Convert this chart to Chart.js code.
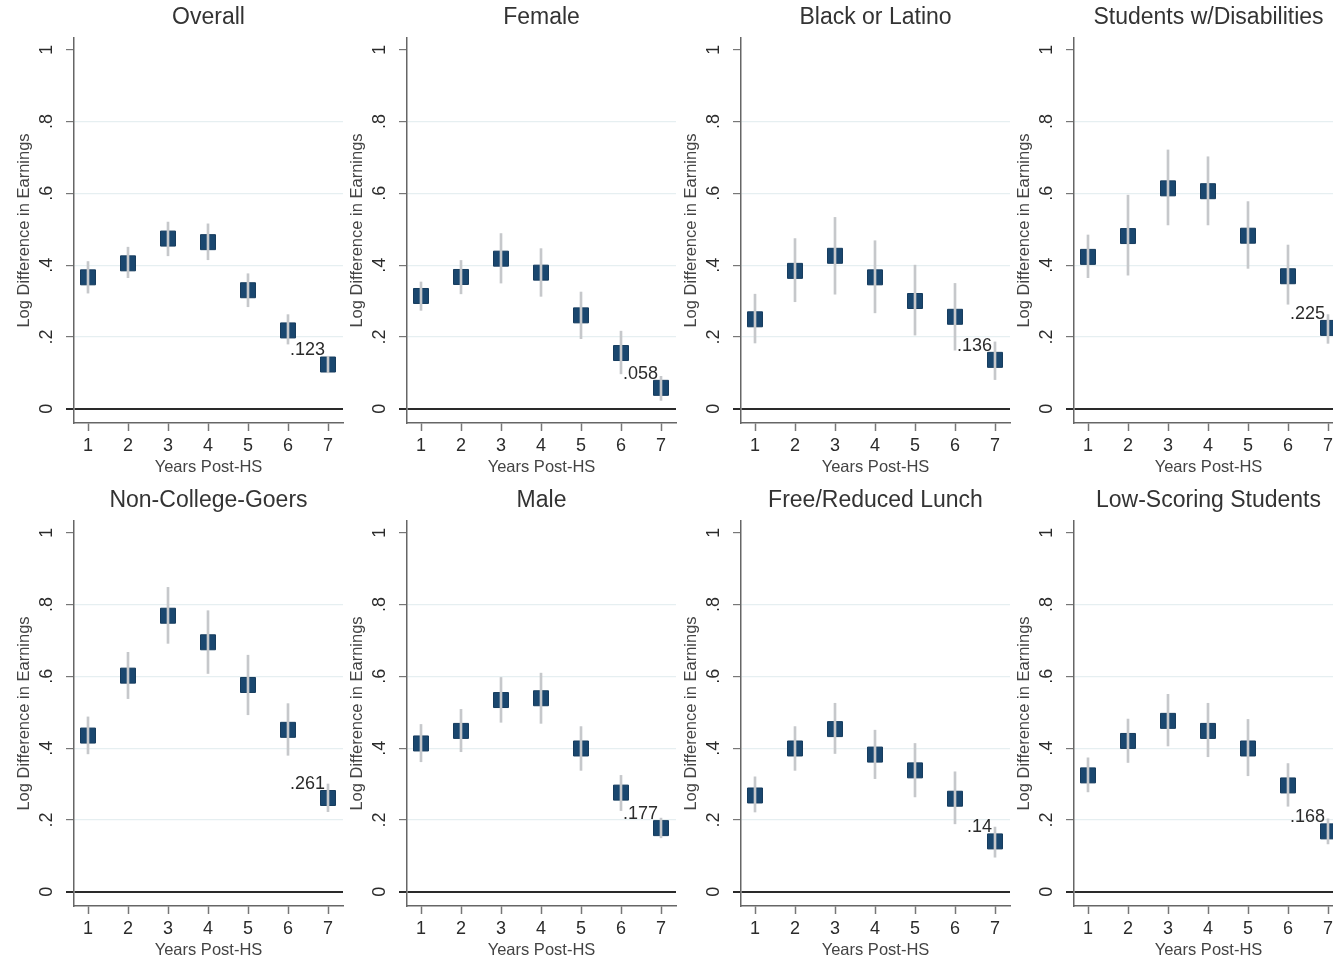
<!DOCTYPE html>
<html>
<head>
<meta charset="utf-8">
<script src="https://cdn.jsdelivr.net/npm/chart.js@4.4.1/dist/chart.umd.min.js"></script>
<style>
  html, body { margin: 0; padding: 0; background: #fff; overflow: hidden; }
  #wrap { position: relative; width: 1333px; height: 962px; overflow: hidden; background: #fff; }
  .panel { position: absolute; width: 350px; height: 479px; }
</style>
</head>
<body>
<div id="wrap"></div>
<script>
// x categories and y ticks
const years = [1, 2, 3, 4, 5, 6, 7];
const yTicks = [0, 0.2, 0.4, 0.6, 0.8, 1];

// point estimates and confidence bounds
const overallEst = [0.366, 0.405, 0.474, 0.464, 0.330, 0.218, 0.123];
const overallLo  = [0.322, 0.365, 0.426, 0.415, 0.284, 0.180, 0.100];
const overallHi  = [0.410, 0.450, 0.520, 0.515, 0.376, 0.262, 0.146];

const femaleEst = [0.314, 0.367, 0.418, 0.379, 0.260, 0.155, 0.058];
const femaleLo  = [0.274, 0.320, 0.350, 0.313, 0.195, 0.097, 0.023];
const femaleHi  = [0.353, 0.413, 0.488, 0.446, 0.325, 0.216, 0.090];

const blackLatinoEst = [0.249, 0.384, 0.426, 0.366, 0.300, 0.256, 0.136];
const blackLatinoLo  = [0.183, 0.298, 0.319, 0.267, 0.205, 0.163, 0.081];
const blackLatinoHi  = [0.319, 0.474, 0.533, 0.468, 0.400, 0.349, 0.186];

const disabEst = [0.423, 0.481, 0.614, 0.606, 0.482, 0.369, 0.225];
const disabLo  = [0.365, 0.372, 0.512, 0.512, 0.391, 0.291, 0.182];
const disabHi  = [0.484, 0.595, 0.721, 0.702, 0.577, 0.456, 0.262];

const nonCollegeEst = [0.435, 0.602, 0.769, 0.695, 0.576, 0.451, 0.261];
const nonCollegeLo  = [0.384, 0.538, 0.692, 0.608, 0.493, 0.380, 0.223];
const nonCollegeHi  = [0.487, 0.667, 0.848, 0.783, 0.659, 0.524, 0.300];

const maleEst = [0.413, 0.448, 0.534, 0.539, 0.399, 0.276, 0.177];
const maleLo  = [0.362, 0.390, 0.472, 0.469, 0.338, 0.226, 0.150];
const maleHi  = [0.466, 0.508, 0.597, 0.609, 0.460, 0.324, 0.205];

const frlEst = [0.268, 0.399, 0.453, 0.382, 0.338, 0.259, 0.140];
const frlLo  = [0.222, 0.338, 0.385, 0.315, 0.264, 0.189, 0.096];
const frlHi  = [0.320, 0.460, 0.525, 0.450, 0.413, 0.334, 0.180];

const lowScoreEst = [0.324, 0.420, 0.476, 0.448, 0.399, 0.296, 0.168];
const lowScoreLo  = [0.278, 0.360, 0.406, 0.376, 0.323, 0.238, 0.133];
const lowScoreHi  = [0.373, 0.481, 0.550, 0.525, 0.480, 0.357, 0.203];

const panels = [
  ['Overall', overallEst, overallLo, overallHi],
  ['Female', femaleEst, femaleLo, femaleHi],
  ['Black or Latino', blackLatinoEst, blackLatinoLo, blackLatinoHi],
  ['Students w/Disabilities', disabEst, disabLo, disabHi],
  ['Non-College-Goers', nonCollegeEst, nonCollegeLo, nonCollegeHi],
  ['Male', maleEst, maleLo, maleHi],
  ['Free/Reduced Lunch', frlEst, frlLo, frlHi],
  ['Low-Scoring Students', lowScoreEst, lowScoreLo, lowScoreHi]
];

Chart.defaults.font.family = '"Liberation Sans", Arial, sans-serif';

const fmt = v => (v === 0 ? '0' : v === 1 ? '1' : String(v).replace(/^0/, ''));

// label of the last estimate, placed up-left of the marker
const lastLabel = {
  id: 'lastLabel',
  afterDatasetsDraw(chart) {
    const meta = chart.getDatasetMeta(1);
    const vals = chart.data.datasets[1].data;
    const i = vals.length - 1;
    const el = meta.data[i];
    const ctx = chart.ctx;
    ctx.save();
    ctx.font = '18px "Liberation Sans", Arial, sans-serif';
    ctx.fillStyle = '#2b2b2b';
    ctx.textAlign = 'right';
    ctx.textBaseline = 'middle';
    ctx.fillText(fmt(vals[i].y), el.x - 3, el.y - 14);
    ctx.restore();
  }
};

const lefts = [0, 333, 667, 1000];
const tops = [0, 483];
const wrap = document.getElementById('wrap');

panels.forEach((p, k) => {
  const [title, est, lo, hi] = p;
  const div = document.createElement('div');
  div.className = 'panel';
  div.style.left = lefts[k % 4] + 'px';
  div.style.top = tops[Math.floor(k / 4)] + 'px';
  const cv = document.createElement('canvas');
  cv.width = 350; cv.height = 479;
  div.appendChild(cv);
  wrap.appendChild(div);

  new Chart(cv, {
    type: 'scatter',
    data: {
      datasets: [
        {
          type: 'bar',
          data: years.map((x, i) => ({ x: x, y: [lo[i], hi[i]] })),
          backgroundColor: '#c6c8cb',
          barThickness: 2,
          order: 0
        },
        {
          type: 'scatter',
          data: years.map((x, i) => ({ x: x, y: est[i] })),
          pointStyle: 'rect',
          pointRadius: 10.6,
          backgroundColor: '#1a476f',
          borderColor: '#163c5e',
          borderWidth: 1,
          order: 1
        }
      ]
    },
    options: {
      responsive: false,
      animation: false,
      layout: { autoPadding: false, padding: { left: 0, right: 7, top: 0, bottom: 0 } },
      plugins: {
        legend: { display: false },
        tooltip: { enabled: false },
        title: {
          display: true,
          text: title,
          fullSize: false,
          color: '#333',
          font: { size: 23, weight: 'normal' },
          padding: { top: 4, bottom: 6.4 }
        }
      },
      scales: {
        x: {
          type: 'linear',
          min: 0.65,
          max: 7.375,
          offset: false,
          afterBuildTicks: s => { s.ticks = years.map(v => ({ value: v })); },
          afterFit: s => { s.height = 56; s.paddingLeft = 0; s.paddingRight = 0; },
          ticks: { color: '#2b2b2b', font: { size: 18 }, padding: 4, maxRotation: 0, autoSkip: false },
          grid: { display: true, drawOnChartArea: false, drawTicks: true, tickLength: 8, tickColor: '#777', tickWidth: 1.5, offset: false },
          border: { display: true, color: '#666', width: 1.5 },
          title: { display: true, text: 'Years Post-HS', color: '#444', font: { size: 16.5 }, padding: { top: 0, bottom: 2 } }
        },
        y: {
          type: 'linear',
          min: -0.04,
          max: 1.033,
          afterBuildTicks: s => { s.ticks = yTicks.map(v => ({ value: v })); },
          afterFit: s => { s.width = 74; s.paddingTop = 0; s.paddingBottom = 0; },
          ticks: {
            callback: v => fmt(v),
            color: '#2b2b2b',
            font: { size: 18 },
            minRotation: 90,
            maxRotation: 90,
            crossAlign: 'center',
            padding: 11
          },
          grid: {
            color: c => (c.tick.value === 0 ? '#2a2a2a' : c.tick.value === 1 ? 'rgba(0,0,0,0)' : '#e6eff1'),
            lineWidth: c => (c.tick.value === 0 ? 2 : 1.2),
            tickColor: c => (c.tick.value === 0 ? '#2a2a2a' : '#777'),
            tickLength: 8
          },
          border: { display: true, color: '#666', width: 1.5 },
          title: { display: true, text: 'Log Difference in Earnings', color: '#444', font: { size: 16.5 }, padding: { top: 14.5, bottom: 0 } }
        }
      }
    },
    plugins: [lastLabel]
  });
});
</script>
</body>
</html>
